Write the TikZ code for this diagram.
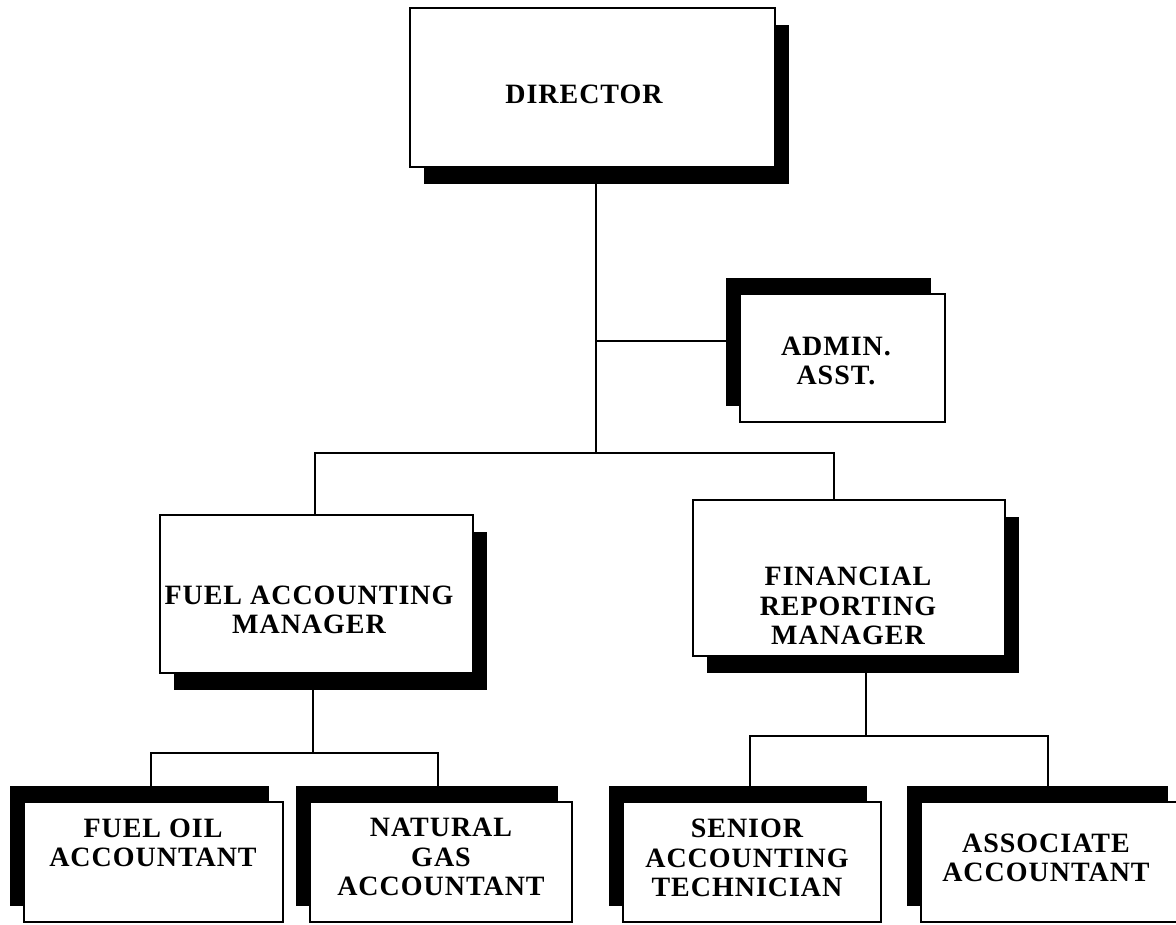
\documentclass[tikz,border=0pt]{standalone}
\usepackage{fontspec}
\setmainfont{Liberation Serif}
\newfontfamily\orgfont[LetterSpace=3.5]{Liberation Serif}
\usetikzlibrary{shadows}
\begin{document}
\begin{tikzpicture}[x=1pt,y=-1pt,
  box/.style={draw, line width=2pt, fill=white, inner sep=0pt, rectangle},
  shdr/.style={general shadow={fill=black, shadow xshift=14pt, shadow yshift=-17pt}},
  shul/.style={general shadow={fill=black, shadow xshift=-14pt, shadow yshift=16pt}},
  lbl/.style={align=center, inner sep=0pt, font=\orgfont\bfseries\fontsize{28}{29.5}\selectfont},
  wire/.style={line width=2.1pt}]
\useasboundingbox (0,0) rectangle (1176,925);
% boxes
\node[box, shdr, minimum width=365pt, minimum height=159pt] (dir) at (592.5,87.5) {};
\node[box, shul, minimum width=205pt, minimum height=128pt] (admin) at (842.5,358) {};
\node[box, shdr, minimum width=313pt, minimum height=158pt] (fam) at (316.5,594) {};
\node[box, shdr, minimum width=312pt, minimum height=156pt] (frm) at (849,578) {};
\node[box, shul, minimum width=259pt, minimum height=120pt] (fo) at (153.5,862) {};
\node[box, shul, minimum width=262pt, minimum height=120pt] (ng) at (441,862) {};
\node[box, shul, minimum width=258pt, minimum height=120pt] (sat) at (752,862) {};
\node[box, shul, minimum width=261pt, minimum height=120pt] (aa) at (1051.5,862) {};
% labels
\node[lbl] (tdir) at (584,94) {DIRECTOR};
\node[lbl] (tadm) at (836,361) {ADMIN.\\ASST.};
\node[lbl] (tfam) at (309,610) {FUEL ACCOUNTING\\MANAGER};
\node[lbl] (tfrm) at (848,606) {FINANCIAL\\REPORTING\\MANAGER};
\node[lbl] (tfo) at (153,843) {FUEL OIL\\ACCOUNTANT};
\node[lbl] (tng) at (441,857) {NATURAL\\GAS\\ACCOUNTANT};
\node[lbl] (tsat) at (747,858) {SENIOR\\ACCOUNTING\\TECHNICIAN};
\node[lbl] (taa) at (1046,858) {ASSOCIATE\\ACCOUNTANT};
% junctions
\coordinate (j1) at (596,453);
\coordinate (ja) at (596,341);
\coordinate (jl) at (315,453);
\coordinate (jr) at (834,453);
\coordinate (k1) at (313,753);
\coordinate (kl) at (151,753);
\coordinate (kr) at (438,753);
\coordinate (m1) at (866,736);
\coordinate (ml) at (750,736);
\coordinate (mr) at (1048,736);
% connectors
\draw[wire] (dir.south -| j1) -- (j1);
\draw[wire] (ja) -- (ja -| admin.west);
\draw[wire] (jl |- fam.north) -- (jl) -- (jr) -- (jr |- frm.north);
\draw[wire] (fam.south -| k1) -- (k1);
\draw[wire] (kl |- fo.north) -- (kl) -- (kr) -- (kr |- ng.north);
\draw[wire] (frm.south -| m1) -- (m1);
\draw[wire] (ml |- sat.north) -- (ml) -- (mr) -- (mr |- aa.north);
\end{tikzpicture}
\end{document}
